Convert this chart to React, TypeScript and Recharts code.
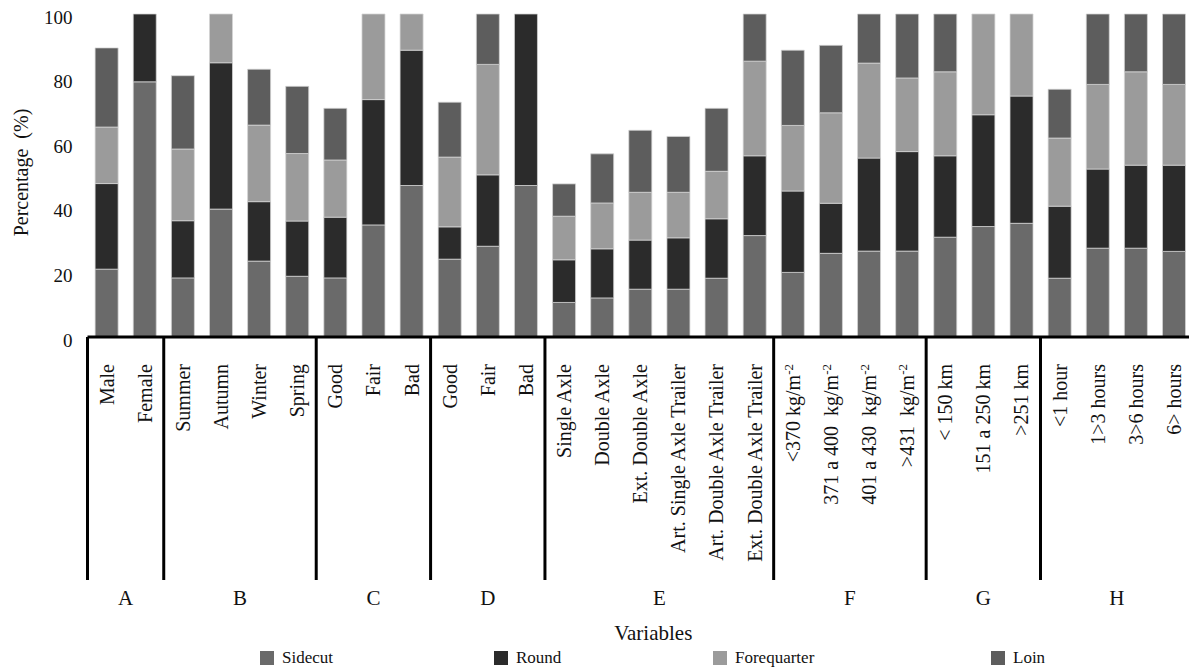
import { Bar, BarChart, Label, Legend, XAxis, YAxis } from "recharts";

const categories = [
  "Male",
  "Female",
  "Summer",
  "Autumn",
  "Winter",
  "Spring",
  "Good",
  "Fair",
  "Bad",
  "Good",
  "Fair",
  "Bad",
  "Single Axle",
  "Double Axle",
  "Ext. Double Axle",
  "Art. Single Axle Trailer",
  "Art. Double Axle Trailer",
  "Ext. Double Axle Trailer",
  "<370 kg/m^-2",
  "371 a 400  kg/m^-2",
  "401 a 430  kg/m^-2",
  ">431  kg/m^-2",
  "< 150 km",
  "151 a 250 km",
  ">251 km",
  "<1 hour",
  "1>3 hours",
  "3>6 hours",
  "6> hours",
];

const groupLetters = ["A", "B", "C", "D", "E", "F", "G", "H"];
const groupSizes = [2, 4, 3, 3, 6, 4, 3, 4];

const sidecut = [
  21, 79, 18.3, 39.6, 23.5, 18.8, 18.3, 34.7, 46.9, 24.1, 28.1, 46.9, 10.7, 12.1, 14.8,
  14.8, 18.2, 31.4, 20.0, 25.9, 26.6, 26.6, 30.9, 34.2, 35.2, 18.2, 27.5, 27.5, 26.5,
];
const round = [
  26.5, 21, 17.7, 45.3, 18.4, 17.1, 18.8, 38.8, 41.9, 10.0, 22.1, 53.1, 13.2, 15.2, 15.2,
  15.9, 18.4, 24.7, 25.2, 15.5, 28.8, 30.8, 25.2, 34.6, 39.4, 22.3, 24.5, 25.7, 26.7,
];
const forequarter = [
  17.5, 0, 22.2, 15.1, 23.7, 20.9, 17.7, 26.5, 11.2, 21.6, 34.2, 0, 13.5, 14.2, 14.8,
  14.1, 14.7, 29.3, 20.3, 28.0, 29.4, 22.8, 26.0, 31.2, 25.4, 21.1, 26.2, 28.9, 25.0,
];
const loin = [
  24.5, 0, 22.7, 0, 17.3, 20.8, 16.0, 0, 0, 17.0, 15.6, 0, 10.0, 15.2, 19.2,
  17.3, 19.5, 14.6, 23.3, 20.9, 15.2, 19.8, 17.9, 0, 0, 15.1, 21.8, 17.9, 21.8,
];

const yTicks = [0, 20, 40, 60, 80, 100];

const series = [
  { key: "sidecut", name: "Sidecut", color: "#6a6a6a" },
  { key: "round", name: "Round", color: "#2b2b2b" },
  { key: "forequarter", name: "Forequarter", color: "#9b9b9b" },
  { key: "loin", name: "Loin", color: "#5d5d5d" },
];

// width of each legend slot, so the items sit where the original put them
const legendSlots = [234, 219, 278, 80];

const data = categories.map((name, i) => ({
  name,
  sidecut: sidecut[i],
  round: round[i],
  forequarter: forequarter[i],
  loin: loin[i],
}));

// index of the first category in each group
const groupStarts = groupSizes.map((_, g) => groupSizes.slice(0, g).reduce((a, b) => a + b, 0));

const FONT = "Liberation Serif, Times New Roman, serif";
const INK = "#111";

function CategoryTick(props: any) {
  const { x, y, payload, index } = props;
  const half = payload?.offset ?? 19;
  const [main, sup] = String(payload.value).split("^");
  const g = groupStarts.indexOf(index);
  const ty = y + 27;
  return (
    <g>
      <text
        transform={`rotate(-90 ${x} ${ty})`}
        x={x}
        y={ty}
        dy="0.35em"
        textAnchor="end"
        fontSize={20}
        fontFamily={FONT}
        fill={INK}
        style={{ whiteSpace: "pre" }}
      >
        {main}
        {sup && (
          <tspan dy={-7} fontSize={13}>
            {sup}
          </tspan>
        )}
      </text>
      {g >= 0 && (
        <>
          <line x1={x - half} x2={x - half} y1={y} y2={y + 243} stroke="#000" strokeWidth={3} />
          <text
            x={x - half + groupSizes[g] * half}
            y={y + 261}
            dy="0.35em"
            textAnchor="middle"
            fontSize={21}
            fontFamily={FONT}
            fill={INK}
          >
            {groupLetters[g]}
          </text>
        </>
      )}
    </g>
  );
}

function ValueTick({ x, y, payload }: any) {
  return (
    <text x={x} y={y + 3} dy="0.35em" textAnchor="end" fontSize={19} fontFamily={FONT} fill={INK}>
      {payload.value}
    </text>
  );
}

function LegendRow({ payload }: any) {
  const order = series.map((s) => s.name);
  const items = [...(payload ?? [])].sort(
    (a: any, b: any) => order.indexOf(a.value) - order.indexOf(b.value)
  );
  return (
    <div
      style={{
        display: "flex",
        fontFamily: FONT,
        fontSize: 17,
        color: INK,
        lineHeight: "20px",
      }}
    >
      {items.map((entry: any, i: number) => (
        <div
          key={entry.value}
          style={{ display: "flex", alignItems: "center", gap: 8, width: legendSlots[i] }}
        >
          <span style={{ display: "inline-block", width: 14, height: 14, background: entry.color }} />
          <span>{entry.value}</span>
        </div>
      ))}
    </div>
  );
}

export default function App() {
  return (
    <div
      style={{
        position: "absolute",
        left: 0,
        top: 0,
        width: 1189,
        height: 671,
        overflow: "hidden",
        background: "#fff",
        fontFamily: FONT,
      }}
    >
      <BarChart
        width={1193}
        height={671}
        data={data}
        margin={{ top: 14, right: 0, bottom: 0, left: 0 }}
        barCategoryGap="20%"
        style={{ fontFamily: FONT }}
      >
        <XAxis
          dataKey="name"
          interval={0}
          height={334}
          tickSize={0}
          tickMargin={0}
          tick={<CategoryTick />}
          axisLine={{ stroke: "#000", strokeWidth: 3 }}
          tickLine={false}
        >
          <Label
            content={(p: any) => {
              const vb = p.viewBox;
              return (
                <text
                  x={vb.x + vb.width / 2 + 13}
                  y={vb.y + 296}
                  dy="0.35em"
                  textAnchor="middle"
                  fontSize={21}
                  fontFamily={FONT}
                  fill={INK}
                >
                  Variables
                </text>
              );
            }}
          />
        </XAxis>
        <YAxis
          domain={[0, 100]}
          ticks={yTicks}
          width={87.5}
          tickSize={0}
          tickMargin={15}
          tick={<ValueTick />}
          axisLine={false}
          tickLine={false}
        >
          <Label
            content={(p: any) => {
              const vb = p.viewBox;
              const cx = vb.x + 21;
              const cy = vb.y + vb.height / 2 - 3;
              return (
                <text
                  transform={`rotate(-90 ${cx} ${cy})`}
                  x={cx}
                  y={cy}
                  dy="0.35em"
                  textAnchor="middle"
                  fontSize={20}
                  fontFamily={FONT}
                  fill={INK}
                  style={{ whiteSpace: "pre" }}
                >
                  Percentage  (%)
                </text>
              );
            }}
          />
        </YAxis>
        <Legend
          layout="vertical"
          align="center"
          verticalAlign="middle"
          content={<LegendRow />}
          wrapperStyle={{ left: 260, top: 648, width: 820 }}
        />
        {series.map((s) => (
          <Bar
            key={s.key}
            dataKey={s.key}
            name={s.name}
            stackId="cuts"
            fill={s.color}
            stroke="#d4d4d4"
            strokeWidth={0.75}
            legendType="square"
            isAnimationActive={false}
          />
        ))}
      </BarChart>
    </div>
  );
}
